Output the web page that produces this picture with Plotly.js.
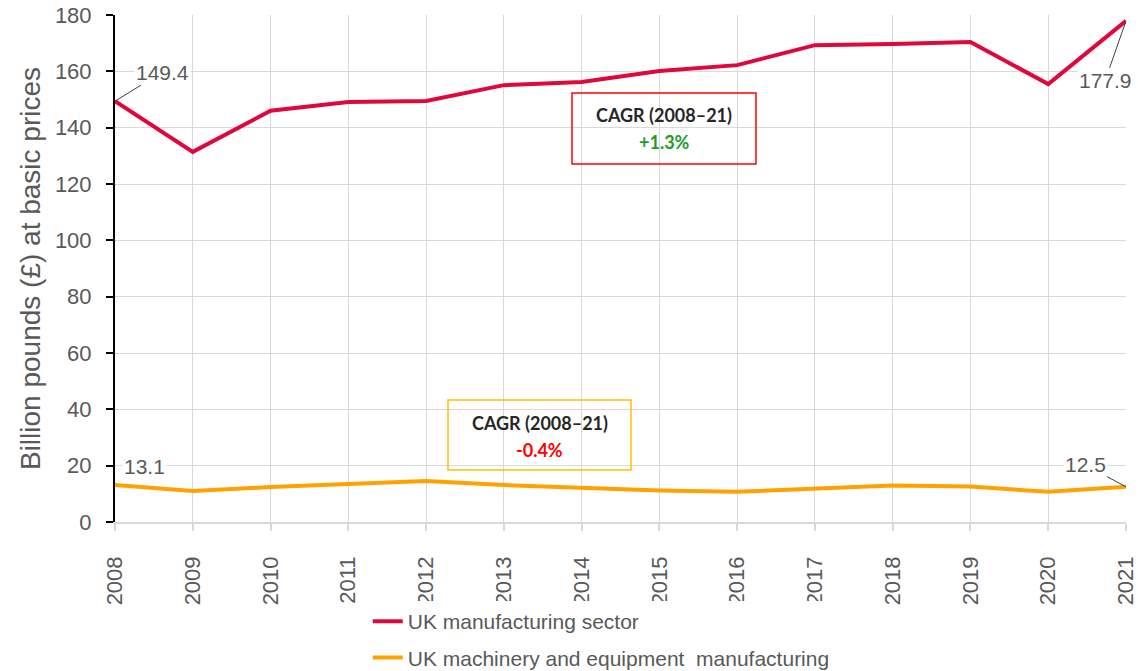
<!DOCTYPE html>
<html>
<head>
<meta charset="utf-8">
<script src="https://cdn.plot.ly/plotly-3.0.1.min.js"></script>
<style>html,body{margin:0;padding:0;background:#fff;}#chart{width:1138px;height:671px;}</style>
</head>
<body>
<div id="chart"></div>
<script>
var years = [2008,2009,2010,2011,2012,2013,2014,2015,2016,2017,2018,2019,2020,2021];
var manufacturing = [149.4,131.4,146.0,149.1,149.5,155.1,156.2,160.1,162.2,169.3,169.7,170.4,155.5,177.9];
var machinery = [13.1,11.0,12.4,13.5,14.6,13.1,12.1,11.2,10.7,11.7,13.0,12.6,10.7,12.5];
var seriesNames = ["UK manufacturing sector","UK machinery and equipment  manufacturing"];
var yTicks = [0,20,40,60,80,100,120,140,160,180];
var cagrLabel = 'CAGR (2008–21)';
var cagrValues = ['+1.3%', '-0.4%'];

var grey = '#595959';
var traces = [
  {x: years, y: manufacturing, type: 'scatter', mode: 'lines', name: seriesNames[0],
   line: {color: '#E0073D', width: 4}, legendgroup: 'a', xaxis: 'x', yaxis: 'y2'},
  {x: years, y: machinery, type: 'scatter', mode: 'lines', name: seriesNames[1],
   line: {color: '#FFA200', width: 4}, legendgroup: 'b', xaxis: 'x', yaxis: 'y'}
];

var n = years.length;
var arial = 'Liberation Sans, Arial, sans-serif';
var annFont = {family: arial, size: 21, color: grey};
var boxFamily = 'Lato, Open Sans, sans-serif';
var boxFont = {family: boxFamily, size: 18, color: '#262626'};
var NB = '\u00a0';

var layout = {
  width: 1138, height: 671,
  margin: {l: 115, r: 12, t: 15, b: 149, autoexpand: false},
  paper_bgcolor: '#fff', plot_bgcolor: '#fff',
  showlegend: true,
  legend: {orientation: 'v', x: 0.25, xanchor: 'left', y: -0.156, yanchor: 'top',
    font: {family: arial, size: 21, color: grey},
    traceorder: 'grouped', tracegroupgap: 6},
  xaxis: {
    type: 'linear', range: [years[0], years[n-1]],
    tickvals: years, ticktext: years.map(function (v) { return String(v) + NB + NB + '\u2009'; }),
    tickangle: -90, ticklabeloverflow: 'allow',
    tickfont: {family: arial, size: 22, color: grey},
    showgrid: true, gridcolor: '#d9d9d9', gridwidth: 1,
    showline: true, linecolor: '#d9d9d9', linewidth: 2,
    ticks: 'outside', ticklen: 7, tickcolor: '#d9d9d9', tickwidth: 2,
    zeroline: false, fixedrange: true, automargin: false
  },
  yaxis: {
    range: [0, 180], tickvals: yTicks,
    tickfont: {family: arial, size: 22, color: grey},
    title: {text: 'Billion pounds (£) at basic prices', standoff: 6,
      font: {family: arial, size: 28, color: grey}},
    showgrid: true, gridcolor: '#d9d9d9', gridwidth: 1,
    showline: false,
    ticks: 'outside', ticklen: 18, tickcolor: 'rgba(0,0,0,0)', tickwidth: 2,
    zeroline: false, fixedrange: true, automargin: false
  },
  yaxis2: {
    overlaying: 'y', matches: 'y', side: 'left', anchor: 'x', range: [0, 180], tickvals: yTicks,
    showticklabels: false, showgrid: false, zeroline: false,
    showline: true, linecolor: '#000', linewidth: 2,
    ticks: 'outside', ticklen: 7, tickcolor: '#000', tickwidth: 2,
    fixedrange: true, automargin: false
  },
  shapes: [
    {type: 'rect', xref: 'x', yref: 'y', x0: 2013.876, x1: 2016.242, y0: 127.1, y1: 152.3,
     line: {color: '#FF0000', width: 1.5}, fillcolor: 'rgba(255,255,255,0)'},
    {type: 'rect', xref: 'x', yref: 'y', x0: 2012.282, x1: 2014.635, y0: 18.5, y1: 43.3,
     line: {color: '#FFC000', width: 1.5}, fillcolor: 'rgba(255,255,255,0)'}
  ],
  annotations: [
    {x: years[0], y: manufacturing[0], xref: 'x', yref: 'y', text: manufacturing[0].toFixed(1),
     showarrow: true, arrowhead: 0, arrowwidth: 1, arrowcolor: '#404040', ax: 47, ay: -29,
     xanchor: 'center', yanchor: 'middle', font: annFont, bgcolor: '#fff'},
    {x: years[n-1], y: manufacturing[n-1], xref: 'x', yref: 'y', text: manufacturing[n-1].toFixed(1),
     showarrow: true, arrowhead: 0, arrowwidth: 1, arrowcolor: '#404040', ax: -21, ay: 60,
     xanchor: 'center', yanchor: 'middle', font: annFont, bgcolor: '#fff'},
    {x: years[0], y: machinery[0], xref: 'x', yref: 'y', text: machinery[0].toFixed(1),
     showarrow: false, xshift: 29, yshift: 19, xanchor: 'center', yanchor: 'middle',
     font: annFont, bgcolor: '#fff'},
    {x: years[n-1], y: machinery[n-1], xref: 'x', yref: 'y', text: machinery[n-1].toFixed(1),
     showarrow: true, arrowhead: 0, arrowwidth: 1, arrowcolor: '#404040', ax: -41, ay: -22,
     xanchor: 'center', yanchor: 'middle', font: annFont, bgcolor: '#fff'},
    {x: 2015.06, y: 144.5, xref: 'x', yref: 'y', text: '<b>' + cagrLabel + '</b>', showarrow: false,
     font: boxFont},
    {x: 2015.06, y: 134.9, xref: 'x', yref: 'y', text: '<b>' + cagrValues[0] + '</b>', showarrow: false,
     font: {family: boxFamily, size: 18, color: '#239B2C'}},
    {x: 2013.46, y: 35.1, xref: 'x', yref: 'y', text: '<b>' + cagrLabel + '</b>', showarrow: false,
     font: boxFont},
    {x: 2013.46, y: 25.6, xref: 'x', yref: 'y', text: '<b>' + cagrValues[1] + '</b>', showarrow: false,
     font: {family: boxFamily, size: 18, color: '#FF0000'}}
  ]
};

Plotly.newPlot('chart', traces, layout, {displayModeBar: false, staticPlot: true});
</script>
</body>
</html>
